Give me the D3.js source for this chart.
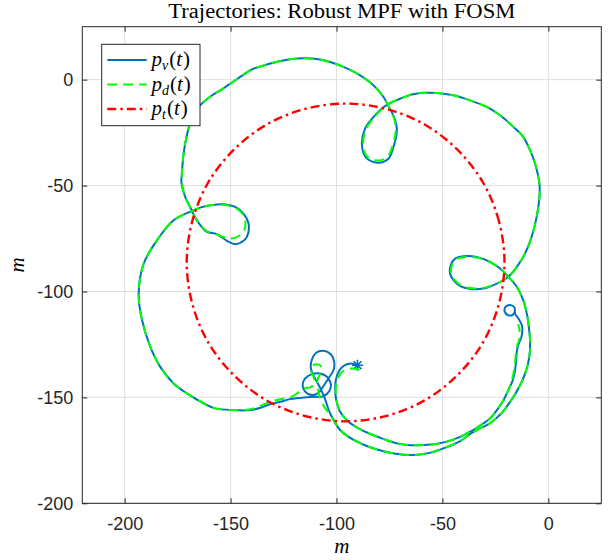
<!DOCTYPE html>
<html>
<head>
<meta charset="utf-8">
<script src="https://cdn.jsdelivr.net/npm/d3@7"></script>
<style>
  body { margin: 0; background: #fff; }
  svg { display: block; }
</style>
</head>
<body>
<div id="chart"></div>
<script>
// axis ticks
const xTicks = [-200, -150, -100, -50, 0];
const yTicks = [0, -50, -100, -150, -200];

// p_v(t): vehicle path, part from the start marker to the small loop
const pvStart = [
  [-90.1, -134.8], [-93.5, -134.0], [-96.7, -135.2], [-99.0, -137.9], [-100.3, -141.8],
  [-100.6, -146.6], [-100.1, -151.3], [-98.3, -156.8], [-94.3, -161.5], [-89.6, -164.6],
  [-84, -167.3], [-78, -169.6], [-71.5, -171.7], [-65, -172.6], [-59.0, -172.5],
  [-53, -172], [-47.9, -170.9], [-42.5, -169], [-38.5, -167.0], [-34.5, -164.8],
  [-30.7, -162.3], [-27.5, -159.9], [-24.3, -156.0], [-21.2, -151.3], [-18.9, -146.6],
  [-16.8, -141.9], [-15.7, -137.1], [-15.2, -132.4], [-14.9, -128.5], [-14.2, -125.3],
  [-12.9, -122.2], [-12.3, -119.1], [-12.5, -115.9], [-14.2, -112.7], [-15.7, -110.4],
  [-16.0, -107.6], [-18.0, -106.4], [-20.2, -107.3], [-20.6, -109.5], [-19.0, -111.2],
  [-16.8, -111.0], [-15.9, -109.6]
];

// p_v(t): the big lap around the target circle
const pvLap = [
  [-18.9, -93.1], [-22.8, -89.2], [-27.5, -86.0], [-33.8, -83.7], [-40.1, -83.4],
  [-44.0, -84.5], [-46.1, -87.6], [-46.4, -91.5], [-44.8, -94.7], [-41.6, -97.5],
  [-36.9, -98.8], [-30.6, -98.6], [-25.9, -97.0], [-21.2, -94.7], [-18.9, -93.1],
  [-14.9, -88.4], [-11.0, -82.1], [-7.9, -74.2], [-5.5, -64.8], [-4.2, -55.4],
  [-4.2, -49.1], [-6.3, -39.6], [-8.6, -33.4], [-11.8, -27.1], [-16.5, -22.3],
  [-22.8, -16.8], [-29.1, -12.9], [-36.9, -9.8], [-44.8, -7.4], [-52.7, -6.3],
  [-58.9, -6.2], [-64.5, -7.0], [-70.0, -9.0], [-75.9, -11.7], [-82.5, -17.6],
  [-86.5, -23.1], [-88.0, -29.4], [-87.2, -34.9], [-84.9, -37.8], [-80.2, -39.2],
  [-75.5, -37.3], [-73.1, -31.8], [-71.5, -23.9], [-72.3, -19.2], [-73.9, -15.3],
  [-75.9, -11.7], [-77.8, -8.2], [-82.5, -2.7], [-88.8, 2.0], [-96.7, 6.0],
  [-103.0, 8.3], [-108.5, 9.6], [-114.5, 10.1], [-121, 9.8], [-127.5, 8.6],
  [-134, 6.8], [-140, 4.8], [-146.9, 0.3], [-154.3, -4.7], [-159.7, -8.1],
  [-165.2, -13.1], [-168.9, -19.9], [-170.7, -26.6], [-172.2, -35.0], [-172.9, -43.4],
  [-173.2, -48.5], [-171.4, -55.4], [-168.2, -62.0], [-166.7, -65.1], [-164.3, -68.7],
  [-161.2, -71.9], [-157.2, -72.7], [-153.3, -75.0], [-150.9, -76.6], [-147.8, -77.7],
  [-144.6, -76.6], [-142.3, -74.2], [-141.5, -67.9], [-143.9, -63.2], [-147.8, -60.1],
  [-153.3, -58.8], [-159.6, -59.3], [-164, -60.3], [-168.2, -62.0], [-176.9, -66.4],
  [-184.7, -75.8], [-191.0, -86.8], [-193.4, -101.0], [-191.8, -113.5], [-187.9, -126.1],
  [-183.2, -135.6], [-176.9, -143.4], [-170.6, -148.1], [-162.7, -152.8], [-157.2, -155.2],
  [-148.6, -156.0], [-140.7, -156.0], [-135.5, -154.8], [-131.3, -153.2], [-126.6, -152.1],
  [-121.8, -150.8], [-115.5, -150.0], [-109.3, -149.7], [-106.1, -149.4], [-103.3, -146.9],
  [-102.7, -143.4], [-104.5, -140.3], [-107.7, -138.7], [-111.6, -139.0], [-114.8, -141.0],
  [-116.0, -144.2], [-114.8, -147.3], [-111.6, -148.9], [-108.5, -147.8], [-106.4, -145.0],
  [-103.8, -141.0], [-101.4, -137.1], [-101.1, -133.2], [-102.7, -129.6], [-106.1, -128.0],
  [-109.6, -128.9], [-111.6, -132.1], [-112.1, -136.3], [-110.5, -140.3], [-108.0, -145.0],
  [-105.8, -149.7], [-103.0, -157.6], [-98.3, -165.4], [-94.5, -168.5], [-88, -172],
  [-80.9, -174.6], [-72, -176.6], [-64, -177.2], [-56, -176.2], [-48, -173.5],
  [-41.6, -170.6], [-36.7, -167.1], [-32, -164.5], [-28.0, -162.5], [-22.5, -157.9],
  [-17.4, -151.2], [-13.4, -144.4], [-10.6, -137.7], [-9.0, -131.0], [-8.6, -124.2],
  [-9.1, -117.5], [-10.1, -110.8], [-11.9, -104.0], [-15.2, -97.3], [-18.9, -93.1]
];

// p_d(t): desired path, same two parts
const pdStart = [
  [-89.1, -137.0], [-92.5, -136.4], [-95.5, -136.7], [-98.0, -138.6], [-99.7, -142.0],
  [-100.4, -146.6], [-100.0, -151.3], [-98.3, -156.8], [-94.3, -161.5], [-89.6, -164.6],
  [-84, -167.3], [-78, -169.6], [-71.5, -171.7], [-65, -172.6], [-59.0, -172.5],
  [-53, -172], [-47.9, -170.9], [-42.5, -169], [-38.5, -167.0], [-34.5, -164.8],
  [-30.7, -162.3], [-27.5, -159.9], [-24.3, -156.0], [-21.2, -151.3], [-18.9, -146.6],
  [-17.2, -141.9], [-16.2, -137.1], [-15.6, -132.4], [-15.2, -128.5], [-14.6, -125.3],
  [-13.6, -122.2], [-13.5, -119.1], [-14.2, -115.5]
];

const pdLap = [
  [-18.9, -93.1], [-22.8, -89.2], [-27.5, -86.2], [-33.8, -84.0], [-40.1, -83.8],
  [-43.8, -84.9], [-45.6, -87.8], [-45.9, -91.3], [-44.4, -94.4], [-41.4, -97.0],
  [-36.9, -98.4], [-30.6, -98.3], [-25.9, -96.8], [-21.2, -94.6], [-18.9, -93.1],
  [-14.9, -88.4], [-11.0, -82.1], [-7.9, -74.2], [-5.5, -64.8], [-4.2, -55.4],
  [-4.2, -49.1], [-6.3, -39.6], [-8.6, -33.4], [-11.8, -27.1], [-16.5, -22.3],
  [-22.8, -16.8], [-29.1, -12.9], [-36.9, -9.8], [-44.8, -7.4], [-52.7, -6.3],
  [-58.9, -6.2], [-64.5, -7.0], [-70.0, -9.0], [-75.9, -11.7], [-82.3, -17.8],
  [-86.0, -23.3], [-87.4, -29.4], [-86.7, -34.4], [-84.5, -37.2], [-80.2, -38.2],
  [-76.0, -36.5], [-73.6, -31.5], [-72.0, -23.9], [-72.6, -19.2], [-74.0, -15.3],
  [-75.9, -11.7], [-77.8, -8.2], [-82.5, -2.7], [-88.8, 2.0], [-96.7, 6.0],
  [-103.0, 8.3], [-108.5, 9.6], [-114.5, 10.1], [-121, 9.8], [-127.5, 8.6],
  [-134, 6.8], [-140, 4.8], [-146.9, 0.3], [-154.3, -4.7], [-159.7, -8.1],
  [-165.2, -13.1], [-168.9, -19.9], [-170.7, -26.6], [-172.2, -35.0], [-172.9, -43.4],
  [-173.0, -48.5], [-171.4, -55.4], [-168.2, -62.0], [-166.7, -65.1], [-164.3, -68.7],
  [-161.2, -71.5], [-157.2, -72.7], [-153.3, -74.3], [-149.4, -75.0], [-145.8, -73.6],
  [-143.4, -70.5], [-143.0, -67.2], [-144.2, -63.6], [-147.8, -60.5], [-153.3, -59.0],
  [-159.6, -59.3], [-164, -60.3], [-168.2, -62.0], [-176.9, -66.4], [-184.7, -75.8],
  [-191.0, -86.8], [-193.4, -101.0], [-191.8, -113.5], [-187.9, -126.1], [-183.2, -135.6],
  [-176.9, -143.4], [-170.6, -148.1], [-162.7, -152.8], [-157.2, -155.2], [-148.6, -156.0],
  [-140.7, -155.6], [-135.5, -153.8], [-131.3, -152.1], [-126.6, -150.9], [-121.1, -149.7],
  [-117.1, -146.9], [-114.8, -145.5], [-112.4, -145.3], [-110.5, -143.4], [-110.8, -140.3],
  [-112.1, -137.4], [-111.6, -135.2], [-109.3, -134.3], [-107.4, -135.2], [-107.7, -138.7],
  [-109.0, -141.8], [-108.8, -145.8], [-107.7, -150.5], [-105.3, -155.2], [-102.2, -159.1],
  [-98.3, -165.4], [-94.5, -168.5], [-88, -172], [-80.9, -174.6], [-72, -176.6],
  [-64, -177.2], [-56, -176.2], [-48, -173.5], [-41.6, -170.6], [-36.7, -167.1],
  [-32, -164.5], [-28.0, -162.5], [-22.5, -157.9], [-17.4, -151.2], [-13.4, -144.4],
  [-10.6, -137.7], [-9.0, -131.0], [-8.6, -124.2], [-9.1, -117.5], [-10.1, -110.8],
  [-11.9, -104.0], [-15.2, -97.3], [-18.9, -93.1]
];

// p_t(t): target circle, read every 15 degrees
const ptPath = [
  [-20.7, -86.3], [-23.3, -66.9], [-30.7, -48.8], [-42.7, -33.3], [-58.2, -21.3],
  [-76.3, -13.9], [-95.7, -11.3], [-115.1, -13.9], [-133.2, -21.3], [-148.7, -33.3],
  [-160.7, -48.8], [-168.1, -66.9], [-170.7, -86.3], [-168.1, -105.7], [-160.7, -123.8],
  [-148.7, -139.3], [-133.2, -151.3], [-115.1, -158.7], [-95.7, -161.3], [-76.3, -158.7],
  [-58.2, -151.3], [-42.7, -139.3], [-30.7, -123.8], [-23.3, -105.7]
];

// start marker
const startPoint = [-90.1, -134.8];

const W = 608, H = 560;
const plot = { left: 82.3, right: 601.3, top: 26.7, bottom: 503.3 };
const axisColor = "#262626";
const blue = "#0072bd", green = "#00ff00", red = "#ff0000";

const svg = d3.select("#chart").append("svg")
  .attr("width", W)
  .attr("height", H)
  .style("font-family", "'Liberation Sans', Arial, sans-serif");

const x = d3.scaleLinear().domain([-220, 25]).range([plot.left, plot.right]);
const y = d3.scaleLinear().domain([-200, 25]).range([plot.bottom, plot.top]);

// grid
svg.append("g").selectAll("line").data(xTicks).join("line")
  .attr("x1", d => x(d)).attr("x2", d => x(d))
  .attr("y1", plot.top).attr("y2", plot.bottom)
  .attr("stroke", "#dfdfdf").attr("stroke-width", 1);
svg.append("g").selectAll("line").data(yTicks).join("line")
  .attr("y1", d => y(d)).attr("y2", d => y(d))
  .attr("x1", plot.left).attr("x2", plot.right)
  .attr("stroke", "#dfdfdf").attr("stroke-width", 1);

// axes, ticks inside on all four sides
const plainNum = d => String(d); // matlab uses a plain hyphen
function styleAxis(g) {
  g.select(".domain").remove();
  g.selectAll(".tick line").attr("stroke", axisColor);
  g.selectAll("text").attr("fill", axisColor).style("font-size", "18px");
}
svg.append("g").attr("transform", `translate(0,${plot.bottom})`)
  .call(d3.axisBottom(x).tickValues(xTicks).tickSize(-5).tickPadding(14).tickFormat(plainNum))
  .call(styleAxis);
svg.append("g").attr("transform", `translate(0,${plot.top})`)
  .call(d3.axisTop(x).tickValues(xTicks).tickSize(-5).tickFormat(""))
  .call(styleAxis);
svg.append("g").attr("transform", `translate(${plot.left},0)`)
  .call(d3.axisLeft(y).tickValues(yTicks).tickSize(-5).tickPadding(9).tickFormat(plainNum))
  .call(styleAxis);
svg.append("g").attr("transform", `translate(${plot.right},0)`)
  .call(d3.axisRight(y).tickValues(yTicks).tickSize(-5).tickFormat(""))
  .call(styleAxis);

// lines
const line = d3.line().x(d => x(d[0])).y(d => y(d[1])).curve(d3.curveCatmullRom.alpha(0.5));
const lineClosed = d3.line().x(d => x(d[0])).y(d => y(d[1])).curve(d3.curveCatmullRomClosed.alpha(0.5));

[pvStart, pvLap].forEach(seg => {
  svg.append("path").attr("d", line(seg))
    .attr("fill", "none").attr("stroke", blue).attr("stroke-width", 2)
    .attr("stroke-linejoin", "round");
});

// start marker (asterisk)
const m = 5.5;
const sx = x(startPoint[0]), sy = y(startPoint[1]);
svg.append("path")
  .attr("d", `M${sx - m},${sy}L${sx + m},${sy}M${sx},${sy - m}L${sx},${sy + m}` +
    `M${sx - m * 0.72},${sy - m * 0.72}L${sx + m * 0.72},${sy + m * 0.72}` +
    `M${sx - m * 0.72},${sy + m * 0.72}L${sx + m * 0.72},${sy - m * 0.72}`)
  .attr("stroke", blue).attr("stroke-width", 1.6).attr("fill", "none");

[pdStart, pdLap].forEach(seg => {
  svg.append("path").attr("d", line(seg))
    .attr("fill", "none").attr("stroke", green).attr("stroke-width", 2)
    .attr("stroke-dasharray", "10,6");
});

svg.append("path").attr("d", lineClosed(ptPath))
  .attr("fill", "none").attr("stroke", red).attr("stroke-width", 2.4)
  .attr("stroke-dasharray", "9,4,2.5,4");

// box
svg.append("rect")
  .attr("x", plot.left).attr("y", plot.top)
  .attr("width", plot.right - plot.left).attr("height", plot.bottom - plot.top)
  .attr("fill", "none").attr("stroke", axisColor).attr("stroke-width", 1);

// title and labels
const serif = "'Liberation Serif', 'Times New Roman', serif";
svg.append("text")
  .attr("x", (plot.left + plot.right) / 2).attr("y", 18)
  .attr("text-anchor", "middle")
  .attr("textLength", 347).attr("lengthAdjust", "spacingAndGlyphs")
  .style("font-family", serif).style("font-size", "20px").attr("fill", "#000")
  .text("Trajectories: Robust MPF with FOSM");

svg.append("text")
  .attr("x", (plot.left + plot.right) / 2).attr("y", 553)
  .attr("text-anchor", "middle")
  .style("font-family", serif).style("font-style", "italic").style("font-size", "21px")
  .text("m");

svg.append("text")
  .attr("transform", `translate(24,${(plot.top + plot.bottom) / 2}) rotate(-90)`)
  .attr("text-anchor", "middle")
  .style("font-family", serif).style("font-style", "italic").style("font-size", "21px")
  .text("m");

// legend
const legend = svg.append("g");
legend.append("rect")
  .attr("x", 101.7).attr("y", 44.3).attr("width", 98.3).attr("height", 81.4)
  .attr("fill", "#fff").attr("stroke", axisColor).attr("stroke-width", 1);

const legendItems = [
  { sub: "v", color: blue, dash: null, w: 2 },
  { sub: "d", color: green, dash: "10,6", w: 2 },
  { sub: "t", color: red, dash: "9,4,2.5,4", w: 2.4 }
];
legendItems.forEach((it, i) => {
  const ry = 60 + i * 24.5;
  legend.append("line")
    .attr("x1", 107.3).attr("x2", 146.7).attr("y1", ry).attr("y2", ry)
    .attr("stroke", it.color).attr("stroke-width", it.w)
    .attr("stroke-dasharray", it.dash);
  const t = legend.append("text")
    .attr("x", 151.5).attr("y", ry + 6)
    .style("font-family", serif).style("font-size", "21px").attr("fill", "#000");
  t.append("tspan").style("font-style", "italic").text("p");
  t.append("tspan").style("font-style", "italic").style("font-size", "14px")
    .attr("dy", 4).text(it.sub);
  t.append("tspan").attr("dy", -4).attr("dx", 1).text("(");
  t.append("tspan").style("font-style", "italic").text("t");
  t.append("tspan").attr("dx", 1).text(")");
});
</script>
</body>
</html>
